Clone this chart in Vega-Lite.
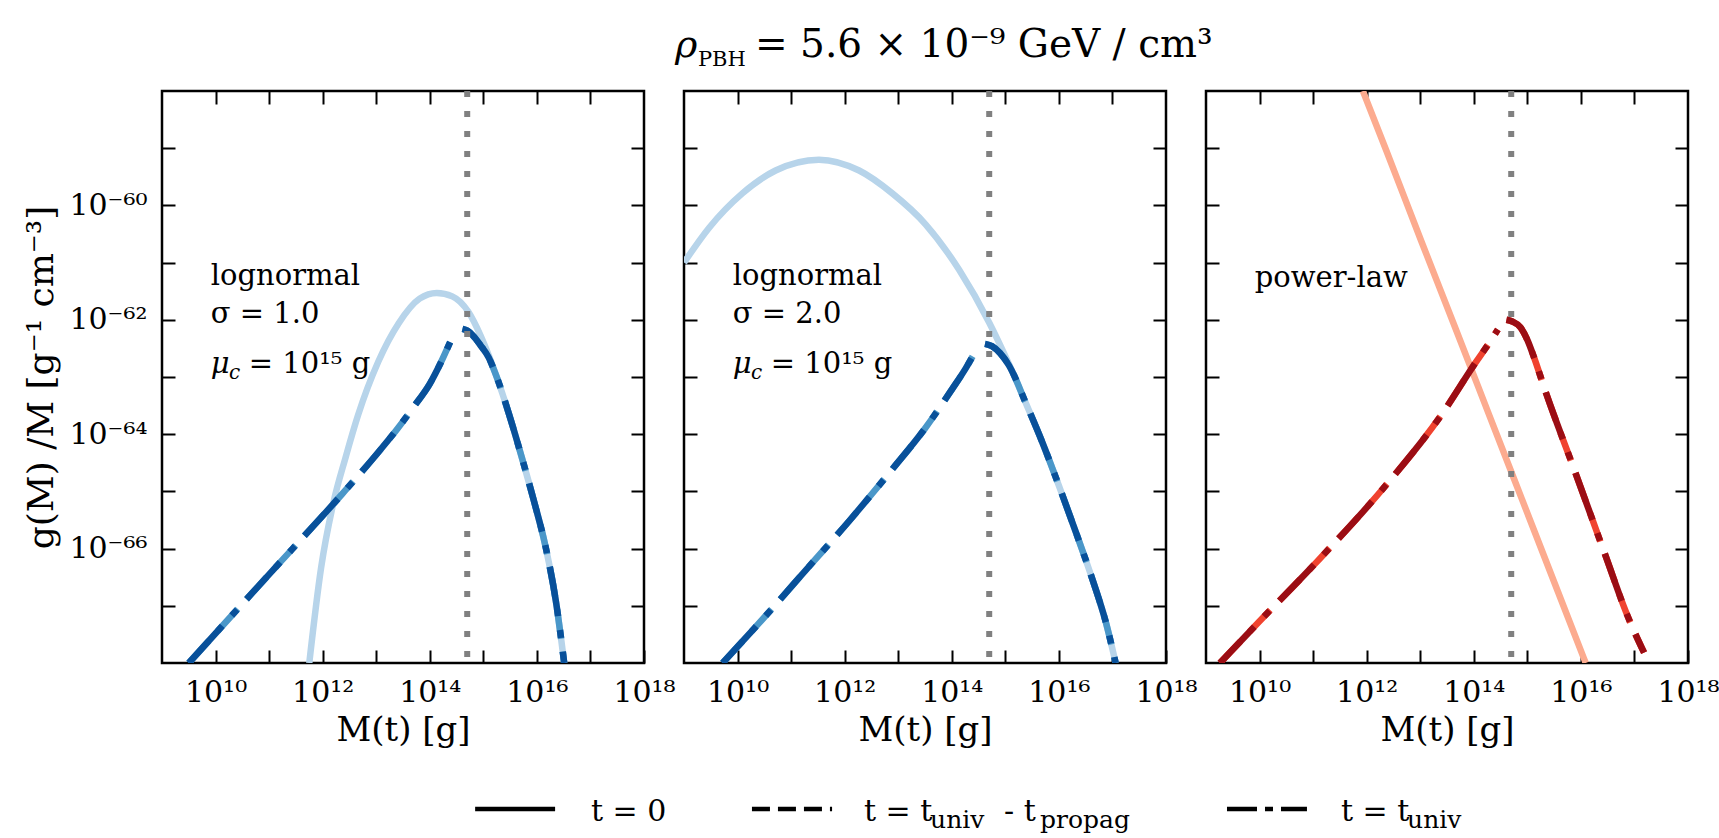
{
  "$schema": "https://vega.github.io/schema/vega-lite/v6.json",
  "background": "white",
  "padding": {"left": 22, "top": 10, "right": 0, "bottom": 0},
  "spacing": 12,
  "resolve": {"scale": {"x": "independent", "y": "independent"}},
  "datasets": {
    "ln1": [
      {"curve":"t=0","branch":"all","M":5.623e11,"g":1e-68},
      {"curve":"t=0","branch":"all","M":9.333e11,"g":4.571e-67},
      {"curve":"t=0","branch":"all","M":1.585e12,"g":6.310e-66},
      {"curve":"t=0","branch":"all","M":2.692e12,"g":3.981e-65},
      {"curve":"t=0","branch":"all","M":4.571e12,"g":2.138e-64},
      {"curve":"t=0","branch":"all","M":1.096e13,"g":1.862e-63},
      {"curve":"t=0","branch":"all","M":2.630e13,"g":8.710e-63},
      {"curve":"t=0","branch":"all","M":6.457e13,"g":2.344e-62},
      {"curve":"t=0","branch":"all","M":1.349e14,"g":2.951e-62},
      {"curve":"t=0","branch":"all","M":2.630e14,"g":2.570e-62},
      {"curve":"t=0","branch":"all","M":5.248e14,"g":1.380e-62},
      {"curve":"t=0","branch":"all","M":8.913e14,"g":5.248e-63},
      {"curve":"t=0","branch":"all","M":1.259e15,"g":2.399e-63},
      {"curve":"t=0","branch":"all","M":1.778e15,"g":1e-63},
      {"curve":"t=0","branch":"all","M":3.020e15,"g":2.239e-64},
      {"curve":"t=0","branch":"all","M":5.129e15,"g":4.169e-65},
      {"curve":"t=0","branch":"all","M":8.710e15,"g":7.079e-66},
      {"curve":"t=0","branch":"all","M":1.479e16,"g":1e-66},
      {"curve":"t=0","branch":"all","M":2.291e16,"g":1.122e-67},
      {"curve":"t=0","branch":"all","M":3.236e16,"g":1e-68},
      {"curve":"t=tuniv-tpropag","branch":"low","M":3.162e9,"g":1e-68},
      {"curve":"t=tuniv-tpropag","branch":"low","M":1.175e10,"g":3.890e-68},
      {"curve":"t=tuniv-tpropag","branch":"low","M":1e11,"g":3.548e-67},
      {"curve":"t=tuniv-tpropag","branch":"low","M":2.754e11,"g":1e-66},
      {"curve":"t=tuniv-tpropag","branch":"low","M":2.291e12,"g":8.913e-66},
      {"curve":"t=tuniv-tpropag","branch":"low","M":1e13,"g":4.365e-65},
      {"curve":"t=tuniv-tpropag","branch":"low","M":2.512e13,"g":1.259e-64},
      {"curve":"t=tuniv-tpropag","branch":"low","M":5.012e13,"g":3.020e-64},
      {"curve":"t=tuniv-tpropag","branch":"low","M":1e14,"g":7.586e-64},
      {"curve":"t=tuniv-tpropag","branch":"low","M":1.585e14,"g":1.738e-63},
      {"curve":"t=tuniv-tpropag","branch":"low","M":2.399e14,"g":4.074e-63},
      {"curve":"t=tuniv-tpropag","branch":"high","M":4.074e14,"g":6.918e-63},
      {"curve":"t=tuniv-tpropag","branch":"high","M":5.012e14,"g":6.457e-63},
      {"curve":"t=tuniv-tpropag","branch":"high","M":6.310e14,"g":5.370e-63},
      {"curve":"t=tuniv-tpropag","branch":"high","M":8.913e14,"g":3.548e-63},
      {"curve":"t=tuniv-tpropag","branch":"high","M":1.259e15,"g":2.188e-63},
      {"curve":"t=tuniv-tpropag","branch":"high","M":1.778e15,"g":1e-63},
      {"curve":"t=tuniv-tpropag","branch":"high","M":3.020e15,"g":2.239e-64},
      {"curve":"t=tuniv-tpropag","branch":"high","M":5.129e15,"g":4.169e-65},
      {"curve":"t=tuniv-tpropag","branch":"high","M":8.710e15,"g":7.079e-66},
      {"curve":"t=tuniv-tpropag","branch":"high","M":1.479e16,"g":1e-66},
      {"curve":"t=tuniv-tpropag","branch":"high","M":2.291e16,"g":1.122e-67},
      {"curve":"t=tuniv-tpropag","branch":"high","M":3.236e16,"g":1e-68},
      {"curve":"t=tuniv","branch":"low","M":3.162e9,"g":1e-68},
      {"curve":"t=tuniv","branch":"low","M":1.175e10,"g":3.890e-68},
      {"curve":"t=tuniv","branch":"low","M":1e11,"g":3.548e-67},
      {"curve":"t=tuniv","branch":"low","M":2.754e11,"g":1e-66},
      {"curve":"t=tuniv","branch":"low","M":2.291e12,"g":8.913e-66},
      {"curve":"t=tuniv","branch":"low","M":1e13,"g":4.365e-65},
      {"curve":"t=tuniv","branch":"low","M":2.512e13,"g":1.259e-64},
      {"curve":"t=tuniv","branch":"low","M":5.012e13,"g":3.020e-64},
      {"curve":"t=tuniv","branch":"low","M":1e14,"g":7.586e-64},
      {"curve":"t=tuniv","branch":"low","M":1.585e14,"g":1.738e-63},
      {"curve":"t=tuniv","branch":"low","M":2.399e14,"g":4.074e-63},
      {"curve":"t=tuniv","branch":"high","M":4.074e14,"g":6.918e-63},
      {"curve":"t=tuniv","branch":"high","M":5.012e14,"g":6.457e-63},
      {"curve":"t=tuniv","branch":"high","M":6.310e14,"g":5.370e-63},
      {"curve":"t=tuniv","branch":"high","M":8.913e14,"g":3.548e-63},
      {"curve":"t=tuniv","branch":"high","M":1.259e15,"g":2.188e-63},
      {"curve":"t=tuniv","branch":"high","M":1.778e15,"g":1e-63},
      {"curve":"t=tuniv","branch":"high","M":3.020e15,"g":2.239e-64},
      {"curve":"t=tuniv","branch":"high","M":5.129e15,"g":4.169e-65},
      {"curve":"t=tuniv","branch":"high","M":8.710e15,"g":7.079e-66},
      {"curve":"t=tuniv","branch":"high","M":1.479e16,"g":1e-66},
      {"curve":"t=tuniv","branch":"high","M":2.291e16,"g":1.122e-67},
      {"curve":"t=tuniv","branch":"high","M":3.236e16,"g":1e-68}
    ],
    "ln2": [
      {"curve":"t=0","branch":"all","M":1e9,"g":1e-61},
      {"curve":"t=0","branch":"all","M":2.951e9,"g":4.074e-61},
      {"curve":"t=0","branch":"all","M":1.230e10,"g":1.622e-60},
      {"curve":"t=0","branch":"all","M":5.129e10,"g":4.074e-60},
      {"curve":"t=0","branch":"all","M":3.311e11,"g":6.310e-60},
      {"curve":"t=0","branch":"all","M":1.862e12,"g":4.074e-60},
      {"curve":"t=0","branch":"all","M":7.762e12,"g":1.622e-60},
      {"curve":"t=0","branch":"all","M":3.236e13,"g":4.677e-61},
      {"curve":"t=0","branch":"all","M":1.380e14,"g":7.413e-62},
      {"curve":"t=0","branch":"all","M":5.012e14,"g":8.913e-63},
      {"curve":"t=0","branch":"all","M":1.175e15,"g":1.660e-63},
      {"curve":"t=0","branch":"all","M":2.399e15,"g":3.548e-64},
      {"curve":"t=0","branch":"all","M":4.898e15,"g":7.244e-65},
      {"curve":"t=0","branch":"all","M":1e16,"g":1.259e-65},
      {"curve":"t=0","branch":"all","M":2.089e16,"g":1.905e-66},
      {"curve":"t=0","branch":"all","M":4.266e16,"g":2.818e-67},
      {"curve":"t=0","branch":"all","M":7.586e16,"g":5.012e-68},
      {"curve":"t=0","branch":"all","M":1.148e17,"g":1e-68},
      {"curve":"t=tuniv-tpropag","branch":"low","M":5.248e9,"g":1e-68},
      {"curve":"t=tuniv-tpropag","branch":"low","M":3.162e10,"g":6.310e-68},
      {"curve":"t=tuniv-tpropag","branch":"low","M":1.995e11,"g":4.467e-67},
      {"curve":"t=tuniv-tpropag","branch":"low","M":1.259e12,"g":3.162e-66},
      {"curve":"t=tuniv-tpropag","branch":"low","M":7.943e12,"g":2.512e-65},
      {"curve":"t=tuniv-tpropag","branch":"low","M":3.162e13,"g":1.259e-64},
      {"curve":"t=tuniv-tpropag","branch":"low","M":1e14,"g":6.026e-64},
      {"curve":"t=tuniv-tpropag","branch":"low","M":1.820e14,"g":1.413e-63},
      {"curve":"t=tuniv-tpropag","branch":"low","M":2.455e14,"g":2.291e-63},
      {"curve":"t=tuniv-tpropag","branch":"high","M":4.169e14,"g":3.802e-63},
      {"curve":"t=tuniv-tpropag","branch":"high","M":5.623e14,"g":3.467e-63},
      {"curve":"t=tuniv-tpropag","branch":"high","M":7.943e14,"g":2.630e-63},
      {"curve":"t=tuniv-tpropag","branch":"high","M":1.175e15,"g":1.585e-63},
      {"curve":"t=tuniv-tpropag","branch":"high","M":2.399e15,"g":3.548e-64},
      {"curve":"t=tuniv-tpropag","branch":"high","M":4.898e15,"g":7.244e-65},
      {"curve":"t=tuniv-tpropag","branch":"high","M":1e16,"g":1.259e-65},
      {"curve":"t=tuniv-tpropag","branch":"high","M":2.089e16,"g":1.905e-66},
      {"curve":"t=tuniv-tpropag","branch":"high","M":4.266e16,"g":2.818e-67},
      {"curve":"t=tuniv-tpropag","branch":"high","M":7.586e16,"g":5.012e-68},
      {"curve":"t=tuniv-tpropag","branch":"high","M":1.148e17,"g":1e-68},
      {"curve":"t=tuniv","branch":"low","M":5.248e9,"g":1e-68},
      {"curve":"t=tuniv","branch":"low","M":3.162e10,"g":6.310e-68},
      {"curve":"t=tuniv","branch":"low","M":1.995e11,"g":4.467e-67},
      {"curve":"t=tuniv","branch":"low","M":1.259e12,"g":3.162e-66},
      {"curve":"t=tuniv","branch":"low","M":7.943e12,"g":2.512e-65},
      {"curve":"t=tuniv","branch":"low","M":3.162e13,"g":1.259e-64},
      {"curve":"t=tuniv","branch":"low","M":1e14,"g":6.026e-64},
      {"curve":"t=tuniv","branch":"low","M":1.820e14,"g":1.413e-63},
      {"curve":"t=tuniv","branch":"low","M":2.455e14,"g":2.291e-63},
      {"curve":"t=tuniv","branch":"high","M":4.169e14,"g":3.802e-63},
      {"curve":"t=tuniv","branch":"high","M":5.623e14,"g":3.467e-63},
      {"curve":"t=tuniv","branch":"high","M":7.943e14,"g":2.630e-63},
      {"curve":"t=tuniv","branch":"high","M":1.175e15,"g":1.585e-63},
      {"curve":"t=tuniv","branch":"high","M":2.399e15,"g":3.548e-64},
      {"curve":"t=tuniv","branch":"high","M":4.898e15,"g":7.244e-65},
      {"curve":"t=tuniv","branch":"high","M":1e16,"g":1.259e-65},
      {"curve":"t=tuniv","branch":"high","M":2.089e16,"g":1.905e-66},
      {"curve":"t=tuniv","branch":"high","M":4.266e16,"g":2.818e-67},
      {"curve":"t=tuniv","branch":"high","M":7.586e16,"g":5.012e-68},
      {"curve":"t=tuniv","branch":"high","M":1.148e17,"g":1e-68}
    ],
    "pl": [
      {"curve":"t=0","branch":"all","M":8.511e11,"g":1e-58},
      {"curve":"t=0","branch":"all","M":2.344e12,"g":8.913e-60},
      {"curve":"t=0","branch":"all","M":1.023e13,"g":2.512e-61},
      {"curve":"t=0","branch":"all","M":4.467e13,"g":7.413e-63},
      {"curve":"t=0","branch":"all","M":1.950e14,"g":2.138e-64},
      {"curve":"t=0","branch":"all","M":8.511e14,"g":6.166e-66},
      {"curve":"t=0","branch":"all","M":3.715e15,"g":1.778e-67},
      {"curve":"t=0","branch":"all","M":1.230e16,"g":1e-68},
      {"curve":"t=tuniv-tpropag","branch":"low","M":1.820e9,"g":1e-68},
      {"curve":"t=tuniv-tpropag","branch":"low","M":9.772e9,"g":5.248e-68},
      {"curve":"t=tuniv-tpropag","branch":"low","M":1.047e11,"g":5.248e-67},
      {"curve":"t=tuniv-tpropag","branch":"low","M":2.344e12,"g":1.318e-65},
      {"curve":"t=tuniv-tpropag","branch":"low","M":2.455e13,"g":2.138e-64},
      {"curve":"t=tuniv-tpropag","branch":"low","M":1.096e14,"g":1.820e-63},
      {"curve":"t=tuniv-tpropag","branch":"low","M":1.950e14,"g":3.981e-63},
      {"curve":"t=tuniv-tpropag","branch":"low","M":2.818e14,"g":6.761e-63},
      {"curve":"t=tuniv-tpropag","branch":"high","M":4.074e14,"g":1e-62},
      {"curve":"t=tuniv-tpropag","branch":"high","M":5.248e14,"g":9.333e-63},
      {"curve":"t=tuniv-tpropag","branch":"high","M":7.413e14,"g":7.413e-63},
      {"curve":"t=tuniv-tpropag","branch":"high","M":1e15,"g":4.467e-63},
      {"curve":"t=tuniv-tpropag","branch":"high","M":1.349e15,"g":2.138e-63},
      {"curve":"t=tuniv-tpropag","branch":"high","M":2.089e15,"g":6.310e-64},
      {"curve":"t=tuniv-tpropag","branch":"high","M":7.943e15,"g":2.089e-65},
      {"curve":"t=tuniv-tpropag","branch":"high","M":2.951e16,"g":7.079e-67},
      {"curve":"t=tuniv-tpropag","branch":"high","M":7.244e16,"g":7.079e-68},
      {"curve":"t=tuniv-tpropag","branch":"high","M":1.514e17,"g":1.514e-68},
      {"curve":"t=tuniv","branch":"low","M":1.820e9,"g":1e-68},
      {"curve":"t=tuniv","branch":"low","M":9.772e9,"g":5.248e-68},
      {"curve":"t=tuniv","branch":"low","M":1.047e11,"g":5.248e-67},
      {"curve":"t=tuniv","branch":"low","M":2.344e12,"g":1.318e-65},
      {"curve":"t=tuniv","branch":"low","M":2.455e13,"g":2.138e-64},
      {"curve":"t=tuniv","branch":"low","M":1.096e14,"g":1.820e-63},
      {"curve":"t=tuniv","branch":"low","M":1.950e14,"g":3.981e-63},
      {"curve":"t=tuniv","branch":"low","M":2.818e14,"g":6.761e-63},
      {"curve":"t=tuniv","branch":"high","M":4.074e14,"g":1e-62},
      {"curve":"t=tuniv","branch":"high","M":5.248e14,"g":9.333e-63},
      {"curve":"t=tuniv","branch":"high","M":7.413e14,"g":7.413e-63},
      {"curve":"t=tuniv","branch":"high","M":1e15,"g":4.467e-63},
      {"curve":"t=tuniv","branch":"high","M":1.349e15,"g":2.138e-63},
      {"curve":"t=tuniv","branch":"high","M":2.089e15,"g":6.310e-64},
      {"curve":"t=tuniv","branch":"high","M":7.943e15,"g":2.089e-65},
      {"curve":"t=tuniv","branch":"high","M":2.951e16,"g":7.079e-67},
      {"curve":"t=tuniv","branch":"high","M":7.244e16,"g":7.079e-68},
      {"curve":"t=tuniv","branch":"high","M":1.514e17,"g":1.514e-68}
    ]
  },
  "vconcat": [
    {
      "width": 1526, "height": 64,
      "view": {"stroke": null},
      "data": {"values": [{}]},
      "layer": [
        {"mark": {"type": "text", "text": "ρ", "fontSize": 38, "fontStyle": "italic", "align": "left", "baseline": "alphabetic"},
         "encoding": {"x": {"datum": 0.3362, "type": "quantitative", "scale": {"domain": [0, 1], "nice": false, "zero": false}, "axis": null},
                      "y": {"datum": 0.266, "type": "quantitative", "scale": {"domain": [0, 1], "nice": false, "zero": false}, "axis": null}}},
        {"mark": {"type": "text", "text": "PBH", "fontSize": 21, "align": "left", "baseline": "alphabetic"},
         "encoding": {"x": {"datum": 0.3512, "type": "quantitative", "axis": null},
                      "y": {"datum": 0.125, "type": "quantitative", "axis": null}}},
        {"mark": {"type": "text", "text": "= 5.6 × 10⁻⁹ GeV / cm³", "fontSize": 39, "align": "left", "baseline": "alphabetic"},
         "encoding": {"x": {"datum": 0.3886, "type": "quantitative", "axis": null},
                      "y": {"datum": 0.266, "type": "quantitative", "axis": null}}}
      ]
    },
    {
      "hconcat": [
        {
          "width": 482, "height": 572,
          "data": {"name": "ln1"},
          "layer": [
            {"transform": [{"filter": "datum.curve == 't=0'"}],
             "mark": {"type": "line", "color": "#b7d4ea", "strokeWidth": 6.5, "clip": true, "interpolate": "monotone"},
             "encoding": {
               "x": {"field": "M", "type": "quantitative", "scale": {"type": "log", "domain": [1e9, 1e18]},
                     "axis": {"orient": "bottom", "values": [1e10,1e11,1e12,1e13,1e14,1e15,1e16,1e17,1e18],
                              "labelExpr": "round(log(datum.value)/LN10) == 10 ? '10¹⁰' : round(log(datum.value)/LN10) == 12 ? '10¹²' : round(log(datum.value)/LN10) == 14 ? '10¹⁴' : round(log(datum.value)/LN10) == 16 ? '10¹⁶' : round(log(datum.value)/LN10) == 18 ? '10¹⁸' : ''",
                              "title": "M(t) [g]"}},
               "y": {"field": "g", "type": "quantitative", "scale": {"type": "log", "domain": [1e-68, 1e-58]},
                     "axis": {"orient": "left", "values": [1e-67,1e-66,1e-65,1e-64,1e-63,1e-62,1e-61,1e-60,1e-59],
                              "labelExpr": "round(log(datum.value)/LN10) == -60 ? '10⁻⁶⁰' : round(log(datum.value)/LN10) == -62 ? '10⁻⁶²' : round(log(datum.value)/LN10) == -64 ? '10⁻⁶⁴' : round(log(datum.value)/LN10) == -66 ? '10⁻⁶⁶' : ''",
                              "title": "g(M) /M [g⁻¹ cm⁻³]", "titlePadding": 8, "titleFontSize": 36, "labelPadding": 28}}
             }},
            {"transform": [{"filter": "datum.curve == 't=tuniv-tpropag'"}],
             "mark": {"type": "line", "color": "#4a97c9", "strokeWidth": 6.5, "strokeDash": [30, 13], "clip": true, "interpolate": "monotone"},
             "encoding": {
               "x": {"field": "M", "type": "quantitative", "axis": {"orient": "top", "values": [1e10,1e11,1e12,1e13,1e14,1e15,1e16,1e17], "labels": false, "title": null}},
               "y": {"field": "g", "type": "quantitative", "axis": {"orient": "right", "values": [1e-67,1e-66,1e-65,1e-64,1e-63,1e-62,1e-61,1e-60,1e-59], "labels": false, "title": null}},
               "detail": {"field": "branch"}
             }},
            {"transform": [{"filter": "datum.curve == 't=tuniv'"}],
             "mark": {"type": "line", "color": "#08509a", "strokeWidth": 6.5, "strokeDash": [50, 14, 8, 14], "clip": true, "interpolate": "monotone"},
             "encoding": {
               "x": {"field": "M", "type": "quantitative", "axis": null},
               "y": {"field": "g", "type": "quantitative", "axis": null},
               "detail": {"field": "branch"}
             }},
            {"data": {"values": [{}]},
             "mark": {"type": "rule", "color": "#808080", "strokeWidth": 6, "strokeDash": [6, 14]},
             "encoding": {"x": {"datum": 5e14, "type": "quantitative", "axis": null}}},
            {"data": {"values": [{}]},
             "mark": {"type": "text", "text": "lognormal", "fontSize": 29, "align": "left", "baseline": "alphabetic"},
             "encoding": {"x": {"datum": 8.128e9, "type": "quantitative", "axis": null}, "y": {"datum": 3.981e-62, "type": "quantitative", "axis": null}}},
            {"data": {"values": [{}]},
             "mark": {"type": "text", "text": "σ = 1.0", "fontSize": 29, "align": "left", "baseline": "alphabetic"},
             "encoding": {"x": {"datum": 8.128e9, "type": "quantitative", "axis": null}, "y": {"datum": 8.710e-63, "type": "quantitative", "axis": null}}},
            {"data": {"values": [{}]},
             "mark": {"type": "text", "text": "μ", "fontSize": 29, "fontStyle": "italic", "align": "left", "baseline": "alphabetic"},
             "encoding": {"x": {"datum": 8.128e9, "type": "quantitative", "axis": null}, "y": {"datum": 1.175e-63, "type": "quantitative", "axis": null}}},
            {"data": {"values": [{}]},
             "mark": {"type": "text", "text": "c", "fontSize": 20, "fontStyle": "italic", "align": "left", "baseline": "alphabetic"},
             "encoding": {"x": {"datum": 1.778e10, "type": "quantitative", "axis": null}, "y": {"datum": 9.333e-64, "type": "quantitative", "axis": null}}},
            {"data": {"values": [{}]},
             "mark": {"type": "text", "text": "= 10¹⁵ g", "fontSize": 29, "align": "left", "baseline": "alphabetic"},
             "encoding": {"x": {"datum": 4.169e10, "type": "quantitative", "axis": null}, "y": {"datum": 1.175e-63, "type": "quantitative", "axis": null}}}
          ]
        },
        {
          "width": 482, "height": 572,
          "data": {"name": "ln2"},
          "layer": [
            {"transform": [{"filter": "datum.curve == 't=0'"}],
             "mark": {"type": "line", "color": "#b7d4ea", "strokeWidth": 6.5, "clip": true, "interpolate": "monotone"},
             "encoding": {
               "x": {"field": "M", "type": "quantitative", "scale": {"type": "log", "domain": [1e9, 1e18]},
                     "axis": {"orient": "bottom", "values": [1e10,1e11,1e12,1e13,1e14,1e15,1e16,1e17,1e18],
                              "labelExpr": "round(log(datum.value)/LN10) == 10 ? '10¹⁰' : round(log(datum.value)/LN10) == 12 ? '10¹²' : round(log(datum.value)/LN10) == 14 ? '10¹⁴' : round(log(datum.value)/LN10) == 16 ? '10¹⁶' : round(log(datum.value)/LN10) == 18 ? '10¹⁸' : ''",
                              "title": "M(t) [g]"}},
               "y": {"field": "g", "type": "quantitative", "scale": {"type": "log", "domain": [1e-68, 1e-58]},
                     "axis": {"orient": "left", "values": [1e-67,1e-66,1e-65,1e-64,1e-63,1e-62,1e-61,1e-60,1e-59], "labels": false, "title": null}}
             }},
            {"transform": [{"filter": "datum.curve == 't=tuniv-tpropag'"}],
             "mark": {"type": "line", "color": "#4a97c9", "strokeWidth": 6.5, "strokeDash": [30, 13], "clip": true, "interpolate": "monotone"},
             "encoding": {
               "x": {"field": "M", "type": "quantitative", "axis": {"orient": "top", "values": [1e10,1e11,1e12,1e13,1e14,1e15,1e16,1e17], "labels": false, "title": null}},
               "y": {"field": "g", "type": "quantitative", "axis": {"orient": "right", "values": [1e-67,1e-66,1e-65,1e-64,1e-63,1e-62,1e-61,1e-60,1e-59], "labels": false, "title": null}},
               "detail": {"field": "branch"}
             }},
            {"transform": [{"filter": "datum.curve == 't=tuniv'"}],
             "mark": {"type": "line", "color": "#08509a", "strokeWidth": 6.5, "strokeDash": [50, 14, 8, 14], "clip": true, "interpolate": "monotone"},
             "encoding": {
               "x": {"field": "M", "type": "quantitative", "axis": null},
               "y": {"field": "g", "type": "quantitative", "axis": null},
               "detail": {"field": "branch"}
             }},
            {"data": {"values": [{}]},
             "mark": {"type": "rule", "color": "#808080", "strokeWidth": 6, "strokeDash": [6, 14]},
             "encoding": {"x": {"datum": 5e14, "type": "quantitative", "axis": null}}},
            {"data": {"values": [{}]},
             "mark": {"type": "text", "text": "lognormal", "fontSize": 29, "align": "left", "baseline": "alphabetic"},
             "encoding": {"x": {"datum": 8.128e9, "type": "quantitative", "axis": null}, "y": {"datum": 3.981e-62, "type": "quantitative", "axis": null}}},
            {"data": {"values": [{}]},
             "mark": {"type": "text", "text": "σ = 2.0", "fontSize": 29, "align": "left", "baseline": "alphabetic"},
             "encoding": {"x": {"datum": 8.128e9, "type": "quantitative", "axis": null}, "y": {"datum": 8.710e-63, "type": "quantitative", "axis": null}}},
            {"data": {"values": [{}]},
             "mark": {"type": "text", "text": "μ", "fontSize": 29, "fontStyle": "italic", "align": "left", "baseline": "alphabetic"},
             "encoding": {"x": {"datum": 8.128e9, "type": "quantitative", "axis": null}, "y": {"datum": 1.175e-63, "type": "quantitative", "axis": null}}},
            {"data": {"values": [{}]},
             "mark": {"type": "text", "text": "c", "fontSize": 20, "fontStyle": "italic", "align": "left", "baseline": "alphabetic"},
             "encoding": {"x": {"datum": 1.778e10, "type": "quantitative", "axis": null}, "y": {"datum": 9.333e-64, "type": "quantitative", "axis": null}}},
            {"data": {"values": [{}]},
             "mark": {"type": "text", "text": "= 10¹⁵ g", "fontSize": 29, "align": "left", "baseline": "alphabetic"},
             "encoding": {"x": {"datum": 4.169e10, "type": "quantitative", "axis": null}, "y": {"datum": 1.175e-63, "type": "quantitative", "axis": null}}}
          ]
        },
        {
          "width": 482, "height": 572,
          "data": {"name": "pl"},
          "layer": [
            {"transform": [{"filter": "datum.curve == 't=0'"}],
             "mark": {"type": "line", "color": "#fcab8f", "strokeWidth": 6.5, "clip": true, "interpolate": "monotone"},
             "encoding": {
               "x": {"field": "M", "type": "quantitative", "scale": {"type": "log", "domain": [1e9, 1e18]},
                     "axis": {"orient": "bottom", "values": [1e10,1e11,1e12,1e13,1e14,1e15,1e16,1e17,1e18],
                              "labelExpr": "round(log(datum.value)/LN10) == 10 ? '10¹⁰' : round(log(datum.value)/LN10) == 12 ? '10¹²' : round(log(datum.value)/LN10) == 14 ? '10¹⁴' : round(log(datum.value)/LN10) == 16 ? '10¹⁶' : round(log(datum.value)/LN10) == 18 ? '10¹⁸' : ''",
                              "title": "M(t) [g]"}},
               "y": {"field": "g", "type": "quantitative", "scale": {"type": "log", "domain": [1e-68, 1e-58]},
                     "axis": {"orient": "left", "values": [1e-67,1e-66,1e-65,1e-64,1e-63,1e-62,1e-61,1e-60,1e-59], "labels": false, "title": null}}
             }},
            {"transform": [{"filter": "datum.curve == 't=tuniv-tpropag'"}],
             "mark": {"type": "line", "color": "#f0432f", "strokeWidth": 6.5, "strokeDash": [30, 13], "clip": true, "interpolate": "monotone"},
             "encoding": {
               "x": {"field": "M", "type": "quantitative", "axis": {"orient": "top", "values": [1e10,1e11,1e12,1e13,1e14,1e15,1e16,1e17], "labels": false, "title": null}},
               "y": {"field": "g", "type": "quantitative", "axis": {"orient": "right", "values": [1e-67,1e-66,1e-65,1e-64,1e-63,1e-62,1e-61,1e-60,1e-59], "labels": false, "title": null}},
               "detail": {"field": "branch"}
             }},
            {"transform": [{"filter": "datum.curve == 't=tuniv'"}],
             "mark": {"type": "line", "color": "#9b0d14", "strokeWidth": 6.5, "strokeDash": [50, 14, 8, 14], "clip": true, "interpolate": "monotone"},
             "encoding": {
               "x": {"field": "M", "type": "quantitative", "axis": null},
               "y": {"field": "g", "type": "quantitative", "axis": null},
               "detail": {"field": "branch"}
             }},
            {"data": {"values": [{}]},
             "mark": {"type": "rule", "color": "#808080", "strokeWidth": 6, "strokeDash": [6, 14]},
             "encoding": {"x": {"datum": 5e14, "type": "quantitative", "axis": null}}},
            {"data": {"values": [{}]},
             "mark": {"type": "text", "text": "power-law", "fontSize": 29, "align": "left", "baseline": "alphabetic"},
             "encoding": {"x": {"datum": 8.128e9, "type": "quantitative", "axis": null}, "y": {"datum": 3.715e-62, "type": "quantitative", "axis": null}}}
          ]
        }
      ],
      "spacing": 40,
      "bounds": "flush"
    },
    {
      "width": 1526, "height": 76,
      "view": {"stroke": null},
      "data": {"values": [{}]},
      "layer": [
        {"mark": {"type": "rule", "color": "black", "strokeWidth": 4.5},
         "encoding": {"x": {"datum": 0.2052, "type": "quantitative", "scale": {"domain": [0, 1], "nice": false, "zero": false}, "axis": null},
                      "x2": {"datum": 0.2576},
                      "y": {"datum": 0.368, "type": "quantitative", "scale": {"domain": [0, 1], "nice": false, "zero": false}, "axis": null}}},
        {"mark": {"type": "rule", "color": "black", "strokeWidth": 4.5, "strokeDash": [18, 8]},
         "encoding": {"x": {"datum": 0.3866, "type": "quantitative", "axis": null}, "x2": {"datum": 0.4391},
                      "y": {"datum": 0.368, "type": "quantitative", "axis": null}}},
        {"mark": {"type": "rule", "color": "black", "strokeWidth": 4.5, "strokeDash": [30, 8, 8, 8]},
         "encoding": {"x": {"datum": 0.6979, "type": "quantitative", "axis": null}, "x2": {"datum": 0.7503},
                      "y": {"datum": 0.368, "type": "quantitative", "axis": null}}},
        {"mark": {"type": "text", "text": "t = 0", "fontSize": 30, "align": "left", "baseline": "alphabetic"},
         "encoding": {"x": {"datum": 0.2811, "type": "quantitative", "axis": null}, "y": {"datum": 0.21, "type": "quantitative", "axis": null}}},
        {"mark": {"type": "text", "text": "t = t", "fontSize": 30, "align": "left", "baseline": "alphabetic"},
         "encoding": {"x": {"datum": 0.4600, "type": "quantitative", "axis": null}, "y": {"datum": 0.21, "type": "quantitative", "axis": null}}},
        {"mark": {"type": "text", "text": "univ", "fontSize": 25, "align": "left", "baseline": "alphabetic"},
         "encoding": {"x": {"datum": 0.5033, "type": "quantitative", "axis": null}, "y": {"datum": 0.118, "type": "quantitative", "axis": null}}},
        {"mark": {"type": "text", "text": "- t", "fontSize": 30, "align": "left", "baseline": "alphabetic"},
         "encoding": {"x": {"datum": 0.5518, "type": "quantitative", "axis": null}, "y": {"datum": 0.21, "type": "quantitative", "axis": null}}},
        {"mark": {"type": "text", "text": "propag", "fontSize": 25, "align": "left", "baseline": "alphabetic"},
         "encoding": {"x": {"datum": 0.5754, "type": "quantitative", "axis": null}, "y": {"datum": 0.118, "type": "quantitative", "axis": null}}},
        {"mark": {"type": "text", "text": "t = t", "fontSize": 30, "align": "left", "baseline": "alphabetic"},
         "encoding": {"x": {"datum": 0.7726, "type": "quantitative", "axis": null}, "y": {"datum": 0.21, "type": "quantitative", "axis": null}}},
        {"mark": {"type": "text", "text": "univ", "fontSize": 25, "align": "left", "baseline": "alphabetic"},
         "encoding": {"x": {"datum": 0.8159, "type": "quantitative", "axis": null}, "y": {"datum": 0.118, "type": "quantitative", "axis": null}}}
      ]
    }
  ],
  "config": {
    "view": {"stroke": "black", "strokeWidth": 2.5},
    "axis": {"domain": false, "grid": false, "ticks": true, "tickColor": "black", "tickWidth": 2, "tickSize": -13,
             "labelFont": "DejaVu Serif", "labelFontSize": 30, "labelColor": "black", "labelPadding": 27,
             "labelFlush": false, "labelOverlap": false, "labelBound": false,
             "titleFont": "DejaVu Serif", "titleFontSize": 34, "titleFontWeight": "normal", "titleColor": "black", "titlePadding": 6},
    "text": {"font": "DejaVu Serif", "color": "black"}
  }
}
